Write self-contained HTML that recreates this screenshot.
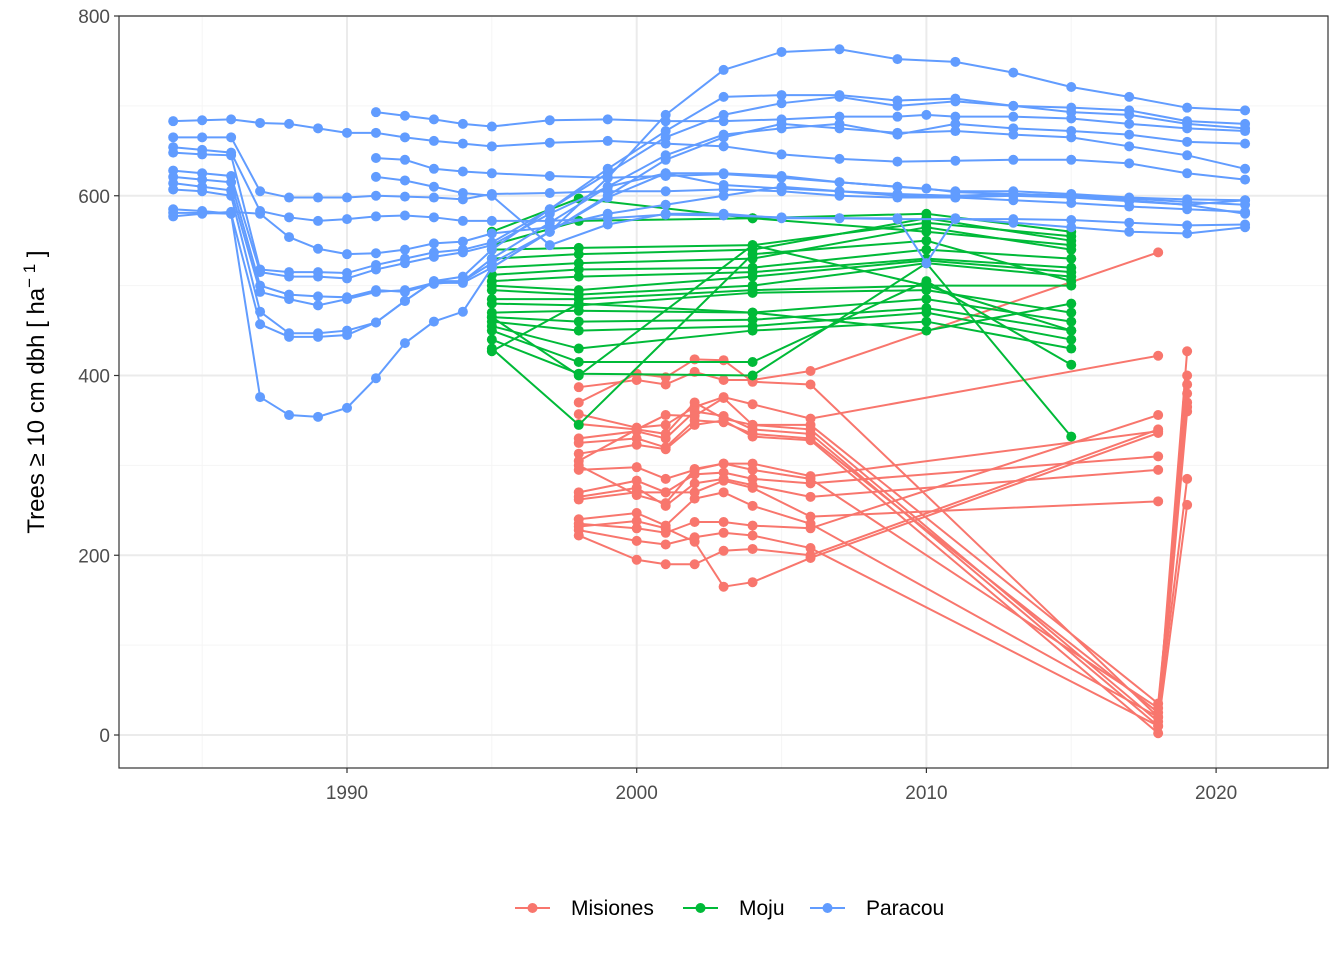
<!DOCTYPE html>
<html><head><meta charset="utf-8"><style>
body{margin:0;background:#fff;font-family:"Liberation Sans",sans-serif}
svg text{font-family:"Liberation Sans",sans-serif}
</style></head><body>
<svg id="chart" width="1344" height="960" xmlns="http://www.w3.org/2000/svg"></svg>
<script>
const xTicks=[1990,2000,2010,2020];
const xMinor=[1985,1995,2005,2015];
const yTicks=[0,200,400,600,800];
const yMinor=[100,300,500,700];
const siteNames=["Misiones","Moju","Paracou"];
const siteColors=["#F8766D","#00BA38","#619CFF"];
const misionesYears=[1998,2000,2001,2002,2003,2004,2006,2018,2019];
const misionesValues=[
[387,395,390,404,395,395,405,537,null],
[370,402,398,418,417,393,390,20,427],
[357,342,345,365,376,368,352,422,null],
[346,340,335,370,352,345,340,15,400],
[330,338,330,360,355,340,335,10,390],
[325,330,320,350,348,335,330,25,370],
[313,323,318,345,350,332,328,2,360],
[305,340,356,355,375,345,345,35,365],
[295,298,285,295,302,302,288,338,null],
[270,283,270,290,292,285,280,310,null],
[265,275,255,280,285,278,265,295,null],
[262,270,270,270,283,275,243,260,null],
[240,247,233,263,270,255,235,20,285],
[235,230,225,237,237,233,230,356,null],
[228,216,212,220,225,222,208,10,256],
[222,195,190,190,205,207,200,340,null],
[232,238,230,215,165,170,197,336,null],
[300,267,258,296,302,295,285,30,380]];
const mojuYears=[1995,1998,2004,2010,2015];
const mojuValues=[
[560,597,575,560,545],[545,572,575,580,560],[540,542,545,570,555],[530,535,540,575,550],
[520,525,530,565,540],[512,518,520,540,530],[505,510,515,530,520],[500,495,510,528,515],
[495,490,500,525,510],[485,485,495,500,500],[480,478,492,495,470],[470,472,470,485,460],
[465,460,462,475,450],[460,450,455,470,440],[455,430,450,460,430],[450,415,415,505,412],
[440,402,400,525,332],[430,345,535,550,505],[465,400,545,500,450],[427,480,470,450,480]];
const paracouYearsA=[1984,1985,1986,1987,1988,1989,1990,1991,1992,1993,1994,1995,1997,1999,2001,2003,2005,2007,2009,2011,2013,2015,2017,2019,2021];
const paracouValuesA=[
[683,684,685,681,680,675,670,670,665,661,658,655,659,661,658,655,646,641,638,639,640,640,636,625,618],
[665,665,665,605,598,598,598,600,599,598,596,602,603,605,605,607,605,600,598,598,600,598,594,590,595],
[654,651,648,583,576,572,574,577,578,576,572,572,572,575,579,578,576,575,574,574,574,573,570,567,568],
[648,646,645,518,515,515,514,523,530,537,540,548,585,625,665,690,703,710,700,705,700,698,695,683,680],
[628,625,622,515,510,510,508,518,525,532,537,545,580,610,645,668,675,680,668,680,675,672,668,660,658],
[621,618,615,500,490,488,487,495,493,502,505,525,560,600,640,665,680,675,670,672,668,665,655,645,630],
[614,610,606,493,485,478,485,493,495,503,503,520,560,598,625,625,622,615,610,605,605,602,598,596,595],
[607,605,600,471,447,447,450,459,483,505,505,530,570,610,625,612,608,605,600,598,595,592,588,585,582],
[585,583,580,457,443,443,445,459,483,505,510,540,585,630,672,710,712,712,706,708,700,693,690,680,675],
[581,581,580,376,356,354,364,397,436,460,471,520,560,620,690,740,760,763,752,749,737,721,710,698,695],
[577,580,582,580,554,541,535,536,540,547,549,558,565,580,590,600,610,605,602,600,602,600,597,593,590]];
const paracouYearsB=[1991,1992,1993,1994,1995,1997,1999,2001,2003,2005,2007,2009,2010,2011,2013,2015,2017,2019,2021];
const paracouValuesB=[
[693,689,685,680,677,684,685,683,683,685,688,688,690,688,688,686,680,675,672],
[642,640,630,627,625,622,620,622,624,620,615,610,608,604,602,600,595,590,580],
[621,617,610,603,600,545,568,580,580,575,575,575,525,575,570,565,560,558,565]];

const NS="http://www.w3.org/2000/svg";
const svg=document.getElementById('chart');
const L=119,R=1328,T=16,B=768;
function xS(y){return 347+(y-1990)*28.97;}
function yS(v){return 735-v*0.89875;}
function mk(tag,attrs,parent){const e=document.createElementNS(NS,tag);for(const k in attrs)e.setAttribute(k,attrs[k]);(parent||svg).appendChild(e);return e;}
const grid=mk('g',{});


xMinor.forEach(v=>mk('line',{x1:xS(v),x2:xS(v),y1:T,y2:B,stroke:'#F5F5F5','stroke-width':1},grid));
yMinor.forEach(v=>mk('line',{x1:L,x2:R,y1:yS(v),y2:yS(v),stroke:'#F5F5F5','stroke-width':1},grid));
xTicks.forEach(v=>mk('line',{x1:xS(v),x2:xS(v),y1:T,y2:B,stroke:'#EBEBEB','stroke-width':2},grid));
yTicks.forEach(v=>mk('line',{x1:L,x2:R,y1:yS(v),y2:yS(v),stroke:'#EBEBEB','stroke-width':2},grid));
function drawSeries(years,values,color,name){
  values.forEach((vals,i)=>{
    const g=mk('g',{});
    
    
    const pts=[];
    years.forEach((yr,j)=>{if(vals[j]!=null)pts.push([xS(yr),yS(vals[j])]);});
    mk('polyline',{points:pts.map(p=>p.join(',')).join(' '),fill:'none',stroke:color,'stroke-width':2},g);
    pts.forEach(p=>mk('circle',{cx:p[0],cy:p[1],r:5,fill:color},g));
  });
}
drawSeries(misionesYears,misionesValues,siteColors[0],'misiones');
drawSeries(mojuYears,mojuValues,siteColors[1],'moju');
drawSeries(paracouYearsA,paracouValuesA,siteColors[2],'paracou');
drawSeries(paracouYearsB,paracouValuesB,siteColors[2],'paracou-b');
const frame=mk('rect',{x:L,y:T,width:R-L,height:B-T,fill:'none',stroke:'#333','stroke-width':1.2});


xTicks.forEach(v=>{
  mk('line',{x1:xS(v),x2:xS(v),y1:B,y2:B+5,stroke:'#333','stroke-width':1.2});
  const t=mk('text',{x:xS(v),y:B+31,'text-anchor':'middle','font-size':19,fill:'#4D4D4D'});
  t.textContent=v;
  
  
});
yTicks.forEach(v=>{
  mk('line',{x1:L-5,x2:L,y1:yS(v),y2:yS(v),stroke:'#333','stroke-width':1.2});
  const t=mk('text',{x:L-9,y:yS(v)+7,'text-anchor':'end','font-size':19,fill:'#4D4D4D'});
  t.textContent=v;
  
  
});
const yt=mk('text',{x:0,y:0,transform:'translate(44,392) rotate(-90)','text-anchor':'middle','font-size':24,fill:'#000'});
yt.innerHTML='Trees ≥ 10 cm dbh [ ha<tspan dy="-9" font-size="17">− 1</tspan><tspan dy="9"> ]</tspan>';


const legX=[515,683,810];
siteNames.forEach((n,i)=>{
  const g=mk('g',{});
  
  
  mk('line',{x1:legX[i],x2:legX[i]+35,y1:908,y2:908,stroke:siteColors[i],'stroke-width':2},g);
  mk('circle',{cx:legX[i]+17.5,cy:908,r:5,fill:siteColors[i]},g);
  const t=mk('text',{x:legX[i]+56,y:915,'font-size':21,fill:'#000'},g);
  t.textContent=n;
});
</script>
</body></html>
